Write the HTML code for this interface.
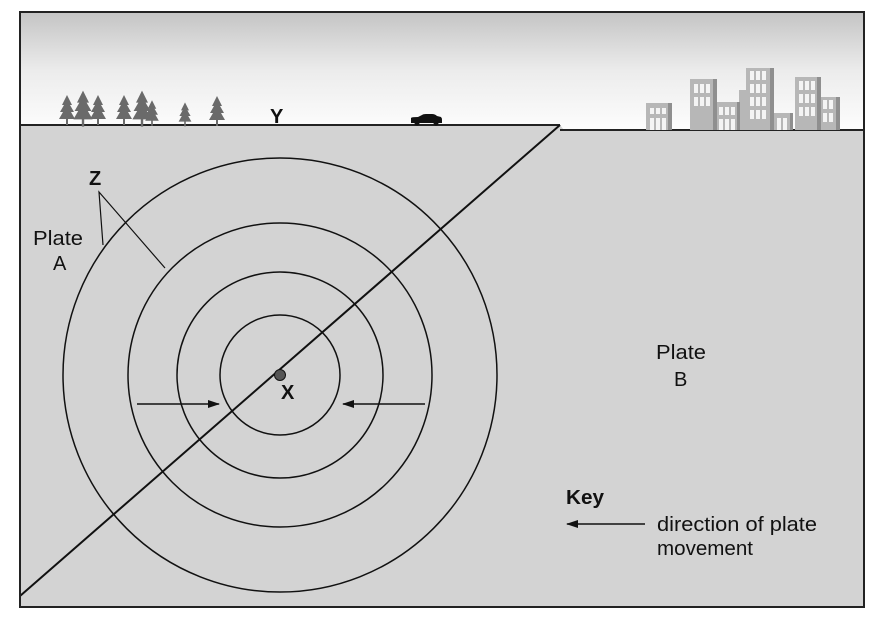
<!DOCTYPE html>
<html><head><meta charset="utf-8"><style>
html,body{margin:0;padding:0;background:#fff;}
svg{display:block;font-family:"Liberation Sans",Arial,sans-serif;}
</style></head><body>
<svg width="884" height="624" viewBox="0 0 884 624" xmlns="http://www.w3.org/2000/svg">
<defs>
<linearGradient id="sky" x1="0" y1="0" x2="0" y2="1">
<stop offset="0" stop-color="#c4c4c4"/><stop offset="0.5" stop-color="#ececec"/><stop offset="1" stop-color="#fdfdfd"/>
</linearGradient>
<marker id="ah" markerWidth="12" markerHeight="8" refX="11" refY="4" orient="auto" markerUnits="userSpaceOnUse">
<path d="M0,0 L12,4 L0,8 Z" fill="#111"/></marker>
<g id="tree"><path d="M0,-22 L-5,-12 L-3,-12 L-7,-5 L-4,-5 L-8,2 L-1,2 L-1,8 L1,8 L1,2 L8,2 L4,-5 L7,-5 L3,-12 L5,-12 Z" fill="#6a6a6a"/></g>
</defs>
<rect x="20" y="12" width="844" height="118" fill="url(#sky)"/>
<polygon points="20,125 560,125 564,130 864,130 864,607 20,607" fill="#d3d3d3"/>
<polyline points="20,125 560,125" stroke="#222" stroke-width="2" fill="none"/>
<polyline points="560,130 864,130" stroke="#222" stroke-width="2" fill="none"/>
<use href="#tree" x="67" y="117"/><use href="#tree" x="83" y="117" transform="translate(83,117) scale(1.2) translate(-83,-117)"/>
<use href="#tree" x="98" y="117"/><use href="#tree" x="124" y="117"/>
<use href="#tree" x="142" y="117" transform="translate(142,117) scale(1.2) translate(-142,-117)"/>
<use href="#tree" x="152" y="119" transform="translate(152,119) scale(0.85) translate(-152,-119)"/>
<use href="#tree" x="185" y="120" transform="translate(185,120) scale(0.8) translate(-185,-120)"/>
<use href="#tree" x="217" y="118"/>
<text x="270" y="123" font-size="20" font-weight="bold" fill="#111">Y</text>
<path d="M411,123 L411,118 Q411,117 418,117 L422,115 Q423,114 426,114 L432,114 Q435,114 437,116 L441,117 Q442,118 442,120 L442,123 Z" fill="#111"/>
<circle cx="417" cy="123" r="2.5" fill="#111"/><circle cx="436" cy="123" r="2.5" fill="#111"/>
<g fill="#b7b7b7">
<rect x="646" y="103" width="22" height="27"/><rect x="690" y="79" width="23" height="51"/>
<rect x="715" y="102" width="22" height="28"/><rect x="739" y="90" width="10" height="40"/>
<rect x="746" y="68" width="24" height="62"/><rect x="774" y="113" width="16" height="17"/>
<rect x="795" y="77" width="22" height="53"/><rect x="820" y="97" width="16" height="33"/>
</g>
<g fill="#fff" opacity="0.85">
<rect x="650" y="108" width="4" height="6"/><rect x="656" y="108" width="4" height="6"/><rect x="662" y="108" width="4" height="6"/>
<rect x="650" y="118" width="4" height="12"/><rect x="656" y="118" width="4" height="12"/><rect x="662" y="118" width="4" height="12"/>
<rect x="694" y="84" width="4" height="9"/><rect x="700" y="84" width="4" height="9"/><rect x="706" y="84" width="4" height="9"/>
<rect x="694" y="97" width="4" height="9"/><rect x="700" y="97" width="4" height="9"/><rect x="706" y="97" width="4" height="9"/>
<rect x="719" y="107" width="4" height="8"/><rect x="725" y="107" width="4" height="8"/><rect x="731" y="107" width="4" height="8"/>
<rect x="719" y="119" width="4" height="11"/><rect x="725" y="119" width="4" height="11"/><rect x="731" y="119" width="4" height="11"/>
<rect x="750" y="71" width="4" height="9"/><rect x="756" y="71" width="4" height="9"/><rect x="762" y="71" width="4" height="9"/>
<rect x="750" y="84" width="4" height="9"/><rect x="756" y="84" width="4" height="9"/><rect x="762" y="84" width="4" height="9"/>
<rect x="750" y="97" width="4" height="9"/><rect x="756" y="97" width="4" height="9"/><rect x="762" y="97" width="4" height="9"/>
<rect x="750" y="110" width="4" height="9"/><rect x="756" y="110" width="4" height="9"/><rect x="762" y="110" width="4" height="9"/>
<rect x="777" y="118" width="4" height="12"/><rect x="783" y="118" width="4" height="12"/>
<rect x="799" y="81" width="4" height="9"/><rect x="805" y="81" width="4" height="9"/><rect x="811" y="81" width="4" height="9"/>
<rect x="799" y="94" width="4" height="9"/><rect x="805" y="94" width="4" height="9"/><rect x="811" y="94" width="4" height="9"/>
<rect x="799" y="107" width="4" height="9"/><rect x="805" y="107" width="4" height="9"/><rect x="811" y="107" width="4" height="9"/>
<rect x="823" y="100" width="4" height="9"/><rect x="829" y="100" width="4" height="9"/>
<rect x="823" y="113" width="4" height="9"/><rect x="829" y="113" width="4" height="9"/>
</g>
<g fill="#8f8f8f">
<rect x="668" y="103" width="4" height="27"/><rect x="713" y="79" width="4" height="51"/><rect x="737" y="102" width="3" height="28"/>
<rect x="770" y="68" width="4" height="62"/><rect x="790" y="113" width="3" height="17"/><rect x="817" y="77" width="4" height="53"/><rect x="836" y="97" width="4" height="33"/>
</g>
<g fill="none" stroke="#111" stroke-width="1.5">
<circle cx="280" cy="375" r="60"/><circle cx="280" cy="375" r="103"/>
<circle cx="280" cy="375" r="152"/><circle cx="280" cy="375" r="217"/>
</g>
<line x1="560" y1="125" x2="20" y2="596" stroke="#111" stroke-width="2"/>
<circle cx="280" cy="375" r="5.5" fill="#555" stroke="#111"/>
<text x="281" y="399" font-size="20" font-weight="bold" fill="#111">X</text>
<line x1="137" y1="404" x2="219" y2="404" stroke="#111" stroke-width="1.5" marker-end="url(#ah)"/>
<line x1="425" y1="404" x2="343" y2="404" stroke="#111" stroke-width="1.5" marker-end="url(#ah)"/>
<text x="89" y="185" font-size="20" font-weight="bold" fill="#111">Z</text>
<polyline points="103,245 99,192 165,268" fill="none" stroke="#111" stroke-width="1.2"/>
<text x="33" y="245" font-size="20" fill="#111" textLength="50" lengthAdjust="spacingAndGlyphs">Plate</text>
<text x="53" y="270" font-size="20" fill="#111">A</text>
<text x="656" y="359" font-size="20" fill="#111" textLength="50" lengthAdjust="spacingAndGlyphs">Plate</text>
<text x="674" y="386" font-size="20" fill="#111">B</text>
<text x="566" y="504" font-size="20" font-weight="bold" fill="#111" textLength="38" lengthAdjust="spacingAndGlyphs">Key</text>
<line x1="645" y1="524" x2="567" y2="524" stroke="#111" stroke-width="1.5" marker-end="url(#ah)"/>
<text x="657" y="531" font-size="20" fill="#111" textLength="160" lengthAdjust="spacingAndGlyphs">direction of plate</text>
<text x="657" y="555" font-size="20" fill="#111" textLength="96" lengthAdjust="spacingAndGlyphs">movement</text>
<rect x="20" y="12" width="844" height="595" fill="none" stroke="#222" stroke-width="2"/>
</svg>
</body></html>
